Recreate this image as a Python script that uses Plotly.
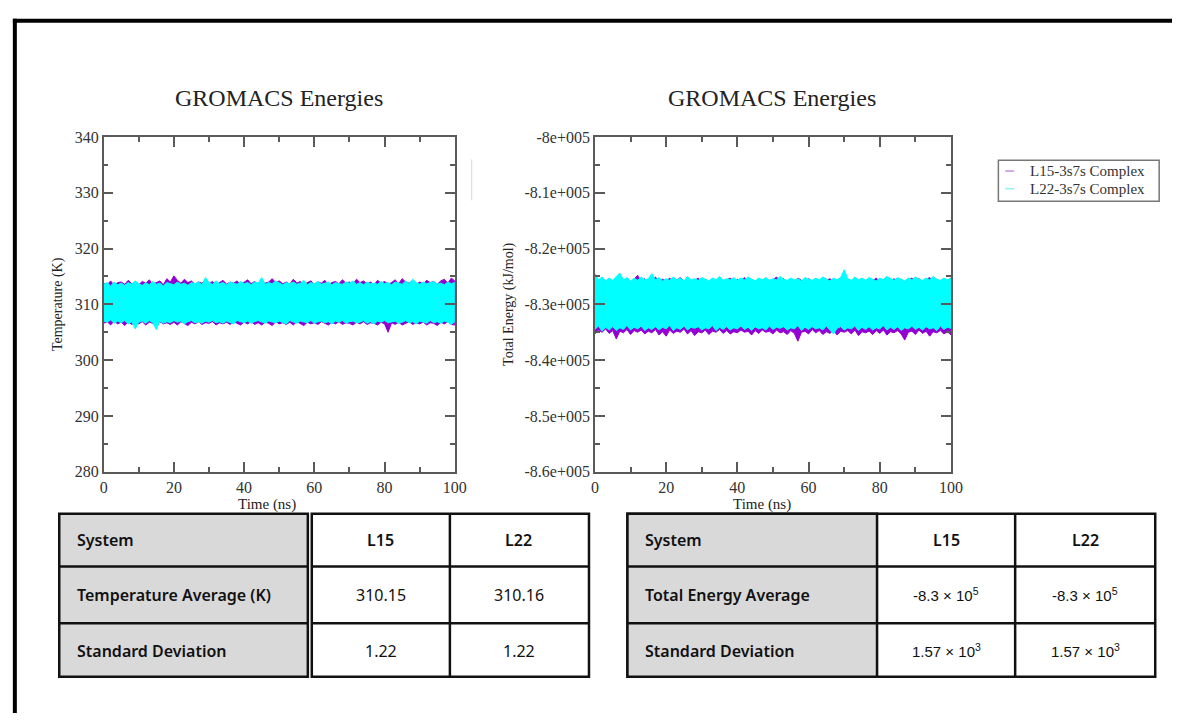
import plotly.graph_objects as go

# ---------------- data ----------------
time_ns = list(range(0, 101))

temp_L15_upper = [313.8, 313.5, 314.2, 313.4, 313.9, 314.0, 313.6, 314.3, 313.7, 313.9,
                  313.5, 314.1, 313.8, 314.4, 313.6, 313.9, 314.2, 313.5, 314.6, 314.0,
                  315.1, 314.3, 313.8, 314.5, 313.9, 314.2, 313.6, 314.0, 313.8, 314.4,
                  313.7, 314.1, 313.5, 313.9, 314.3, 313.6, 314.0, 313.8, 314.2, 313.5,
                  313.9, 314.4, 313.7, 314.1, 313.6, 314.3, 313.8, 314.0, 314.6, 313.9,
                  314.2, 313.7, 314.0, 313.6, 314.5, 313.8, 314.1, 313.5, 313.9, 314.2,
                  313.6, 314.0, 313.8, 314.3, 313.5, 313.9, 314.1, 313.7, 314.4, 313.8,
                  314.0, 313.6, 314.5, 313.9, 314.2, 313.7, 314.0, 313.5, 314.3, 313.8,
                  314.1, 313.6, 313.9, 314.4, 313.7, 314.6, 314.0, 313.8, 314.2, 313.6,
                  314.0, 313.7, 314.3, 313.9, 314.1, 313.6, 314.2, 314.5, 313.8, 314.7,
                  314.2]
temp_L15_lower = [306.6, 306.9, 306.3, 307.0, 306.5, 306.8, 306.2, 306.9, 306.4, 306.7,
                  306.5, 306.9, 306.3, 306.8, 306.6, 306.2, 306.9, 306.5, 306.7, 306.4,
                  306.8, 306.3, 306.9, 306.6, 306.2, 306.8, 306.5, 306.9, 306.4, 306.7,
                  306.6, 306.9, 306.3, 306.7, 306.5, 306.8, 306.4, 306.9, 306.6, 306.3,
                  306.8, 306.5, 306.9, 306.4, 306.7, 306.3, 306.8, 306.6, 306.2, 306.9,
                  306.5, 306.7, 306.4, 306.8, 306.3, 306.9, 306.6, 306.2, 306.8, 306.5,
                  306.7, 306.4, 306.9, 306.6, 306.3, 306.8, 306.5, 306.9, 306.4, 306.7,
                  306.6, 306.3, 306.8, 306.5, 306.9, 306.4, 306.7, 306.6, 306.3, 306.8,
                  306.5, 305.0, 306.7, 306.4, 306.8, 306.3, 306.6, 306.9, 306.4, 306.7,
                  306.5, 306.8, 306.3, 306.7, 306.6, 306.2, 306.8, 306.5, 306.9, 306.4,
                  306.3]
temp_L22_upper = [313.6, 313.9, 313.3, 314.0, 313.5, 313.8, 313.4, 313.9, 313.6, 314.2,
                  313.7, 313.4, 313.9, 313.5, 314.1, 313.6, 313.8, 313.3, 313.9, 313.7,
                  313.5, 314.0, 313.6, 313.8, 313.4, 313.9, 313.7, 314.0, 313.5, 314.8,
                  313.9, 313.6, 314.2, 313.7, 313.9, 313.5, 314.0, 313.8, 313.6, 314.1,
                  313.7, 313.9, 313.5, 314.0, 313.8, 314.8, 313.6, 313.9, 313.7, 314.2,
                  313.8, 313.5, 313.9, 313.7, 314.0, 313.6, 313.8, 314.3, 313.5, 313.9,
                  313.7, 314.1, 313.6, 313.8, 314.0, 313.5, 313.9, 313.7, 313.6, 314.0,
                  313.8, 314.2, 313.6, 313.9, 313.5, 314.0, 313.7, 313.8, 313.6, 314.1,
                  313.7, 313.9, 313.5, 314.0, 313.8, 313.6, 314.2, 313.7, 314.5, 313.9,
                  313.6, 314.0, 313.7, 313.9, 314.1, 313.6, 313.8, 313.5, 314.0, 313.7,
                  313.9]
temp_L22_lower = [307.0, 306.8, 307.2, 306.6, 307.0, 306.7, 307.1, 306.5, 306.9, 305.6,
                  306.8, 307.0, 306.6, 307.1, 306.7, 305.5, 307.0, 306.6, 306.9, 306.7,
                  307.1, 306.8, 307.0, 306.5, 306.9, 307.1, 306.7, 306.9, 306.6, 307.0,
                  306.8, 307.1, 306.7, 306.9, 306.6, 307.0, 306.8, 306.5, 307.1, 306.9,
                  306.7, 307.0, 306.6, 306.9, 307.1, 306.8, 306.6, 307.0, 306.9, 306.7,
                  307.0, 306.8, 306.5, 307.1, 306.9, 306.6, 307.0, 306.8, 306.7, 307.1,
                  306.6, 306.9, 307.0, 306.7, 306.9, 306.5, 307.0, 306.8, 307.1, 306.6,
                  306.9, 307.0, 306.7, 306.8, 307.1, 306.6, 306.9, 306.5, 307.0, 306.8,
                  307.1, 306.7, 306.9, 307.0, 306.6, 306.8, 307.1, 306.7, 306.9, 306.5,
                  307.0, 306.8, 306.6, 307.1, 306.7, 306.9, 306.6, 307.0, 306.8, 306.4,
                  306.9]

energy_L15_upper = [-825600, -826000, -825200, -825900, -825400, -826100, -825700, -824900, -825800, -825300,
                    -826000, -825500, -824800, -825900, -825400, -826200, -825600, -825100, -825900, -825500,
                    -825800, -825300, -826000, -825600, -825200, -825900, -825400, -826100, -825700, -825300,
                    -825900, -825500, -826000, -825400, -825800, -825200, -825900, -825600, -825300, -826000,
                    -825500, -825800, -825200, -825900, -825600, -826100, -825400, -825800, -825300, -825900,
                    -825600, -825100, -825800, -825400, -826000, -825500, -825900, -825300, -825700, -826100,
                    -825400, -825800, -825500, -825900, -825200, -825700, -825400, -826000, -825600, -825300,
                    -825800, -825500, -825900, -825200, -825700, -825400, -826000, -825500, -825800, -825300,
                    -825900, -825600, -825100, -825800, -825400, -825900, -825500, -826100, -825700, -825300,
                    -825800, -825400, -825900, -825600, -825200, -825800, -825500, -826000, -825400, -825700,
                    -825300]
energy_L15_lower = [-835300, -834600, -835000, -834400, -835200, -834700, -836200, -834800, -835100, -834500,
                    -835400, -834700, -835000, -834600, -835300, -834800, -835100, -834500, -835500, -834900,
                    -835700, -834600, -835200, -834800, -835000, -834400, -835300, -834700, -835600, -834900,
                    -835100, -834600, -835400, -834800, -835000, -834500, -835200, -834700, -835300, -834900,
                    -835100, -834600, -835000, -834800, -835500, -834700, -835200, -834600, -835000, -834800,
                    -835300, -834600, -835100, -834900, -835400, -834700, -835200, -836600, -835000, -834800,
                    -835300, -834500, -835100, -834700, -835400, -834900, -835200, -834600, -835500, -834800,
                    -835000, -834700, -835300, -834600, -835600, -834900, -835100, -834800, -835400, -834700,
                    -835200, -834600, -835500, -834900, -835100, -834700, -835300, -836400, -835000, -834800,
                    -835400, -834600, -835200, -834800, -835700, -834900, -835100, -834700, -835300, -834900,
                    -835500]
energy_L22_upper = [-824500, -825600, -825100, -825800, -825300, -825700, -825000, -824400, -825600, -825200,
                    -825800, -825300, -825700, -825100, -825600, -825400, -824500, -825600, -825200, -825800,
                    -825400, -825700, -825100, -825600, -825300, -825800, -825000, -825600, -825400, -825700,
                    -825200, -825500, -825800, -825300, -825600, -825000, -825700, -825400, -825600, -825200,
                    -825700, -825300, -825600, -825100, -825500, -825800, -825300, -825600, -825200, -825700,
                    -825400, -825600, -825000, -825500, -825700, -825300, -825600, -825400, -825800, -825200,
                    -825500, -825700, -825300, -825600, -825100, -825500, -825800, -825300, -825600, -825200,
                    -823800, -825400, -825700, -825100, -825600, -825300, -825700, -825200, -825500, -825800,
                    -825300, -825600, -825000, -825400, -825700, -825200, -825500, -825800, -825300, -825600,
                    -825100, -825500, -825700, -825300, -825600, -825000, -825500, -825700, -825300, -825600,
                    -825400]
energy_L22_lower = [-834500, -833900, -834800, -834100, -834600, -834000, -834700, -834200, -834500, -833800,
                    -834600, -834100, -834400, -833900, -834700, -834200, -834500, -834000, -834600, -834100,
                    -834400, -833800, -834700, -834200, -834500, -833900, -834600, -834100, -834300, -834000,
                    -834600, -834200, -834400, -833800, -834700, -834100, -834500, -834000, -834600, -834200,
                    -834400, -833900, -834500, -834100, -834700, -834000, -834400, -834200, -834600, -833900,
                    -834500, -834100, -834300, -834000, -834600, -834200, -834400, -833800, -834700, -834100,
                    -834500, -834000, -834400, -834200, -834600, -833900, -834500, -835300, -834300, -834000,
                    -834600, -834200, -834400, -833900, -834700, -834100, -834500, -834000, -834600, -834200,
                    -834400, -833800, -834600, -834100, -834500, -834000, -834700, -834200, -834400, -833900,
                    -834500, -834100, -834600, -834000, -834400, -834200, -834700, -833900, -834500, -834100,
                    -834300]

series_names = ["L15-3s7s Complex", "L22-3s7s Complex"]
series_colors = ["#9400d3", "#00ffff"]
legend_colors = ["#c98ae6", "#8af2f2"]

temp_ticks = [280, 290, 300, 310, 320, 330, 340]
energy_ticks = [-860000, -850000, -840000, -830000, -820000, -810000, -800000]
energy_ticktext = ["-8.6e+005", "-8.5e+005", "-8.4e+005", "-8.3e+005", "-8.2e+005", "-8.1e+005", "-8e+005"]
time_ticks = [0, 20, 40, 60, 80, 100]

table1_header = ["System", "L15", "L22"]
table1_rows = [["Temperature Average (K)", "310.15", "310.16"],
               ["Standard Deviation", "1.22", "1.22"]]
table2_header = ["System", "L15", "L22"]
table2_rows = [["Total Energy Average", "-8.3 × 10<sup>5</sup>", "-8.3 × 10<sup>5</sup>"],
               ["Standard Deviation", "1.57 × 10<sup>3</sup>", "1.57 × 10<sup>3</sup>"]]

# ---------------- helpers ----------------
W, H = 1184, 722
def px(x):
    return x / W
def py(y):
    return 1 - y / H

SERIF = "Liberation Serif"
SANS = "Noto Sans"

fig = go.Figure()

def band(xname, yname, upper, lower, name, color):
    xs = time_ns + time_ns[::-1]
    ys = upper + lower[::-1]
    fig.add_trace(go.Scatter(x=xs, y=ys, mode="lines", fill="toself", fillcolor=color,
                             line=dict(color=color, width=1), name=name, showlegend=False,
                             xaxis=xname, yaxis=yname, hoverinfo="skip"))

band("x", "y", temp_L15_upper, temp_L15_lower, series_names[0], series_colors[0])
band("x", "y", temp_L22_upper, temp_L22_lower, series_names[1], series_colors[1])
band("x2", "y2", energy_L15_upper, energy_L15_lower, series_names[0], series_colors[0])
band("x2", "y2", energy_L22_upper, energy_L22_lower, series_names[1], series_colors[1])

axis_common = dict(showline=True, linecolor="#5a5a5a", linewidth=1.5, mirror="ticks",
                   ticks="inside", ticklen=10, tickwidth=1.5, tickcolor="#5a5a5a",
                   showgrid=False, zeroline=False,
                   tickfont=dict(family=SERIF, size=16, color="#333333"))

minor_x = dict(dtick=10, ticklen=5, ticks="inside", tickcolor="#5a5a5a", tickwidth=1.5)

fig.update_layout(
    width=W, height=H, margin=dict(l=0, r=0, t=0, b=0),
    paper_bgcolor="white", plot_bgcolor="white", showlegend=False,
    xaxis=dict(domain=[px(101), px(457)], range=[0, 100], tickvals=time_ticks,
               minor=minor_x, anchor="y", **axis_common),
    yaxis=dict(domain=[py(475), py(132)], range=[280, 340], tickvals=temp_ticks,
               minor=dict(dtick=5, ticklen=5, ticks="inside", tickcolor="#5a5a5a", tickwidth=1.5),
               anchor="x", **axis_common),
    xaxis2=dict(domain=[px(599), px(960)], range=[0, 100], tickvals=time_ticks,
                minor=minor_x, anchor="y2", **axis_common),
    yaxis2=dict(domain=[py(475), py(132)], range=[-860000, -800000], tickvals=energy_ticks,
                ticktext=energy_ticktext,
                minor=dict(dtick=5000, ticklen=5, ticks="inside", tickcolor="#5a5a5a", tickwidth=1.5),
                anchor="x2", **axis_common),
)

annotations = []
shapes = []

def text(x, y, s, size, family=SERIF, color="#222222", xanchor="center", angle=0, weight="normal"):
    annotations.append(dict(x=px(x), y=py(y), xref="paper", yref="paper", text=s,
                            showarrow=False, xanchor=xanchor, yanchor="middle", textangle=angle,
                            font=dict(family=family, size=size, color=color, weight=weight)))

# titles and axis titles
text(279, 92, "GROMACS Energies", 24)
text(779, 92, "GROMACS Energies", 24)
text(55, 303, "Temperature (K)", 14, angle=-90)
text(512, 303, "Total Energy (kJ/mol)", 14, angle=-90)
text(267, 508, "Time (ns)", 15)
text(768, 508, "Time (ns)", 15)

# legend (manual, Grace style)
shapes.append(dict(type="rect", xref="paper", yref="paper", x0=px(1008), x1=px(1171), y0=py(198), y1=py(156),
                   line=dict(color="#777777", width=1.5), fillcolor="white"))
for i, (nm, c) in enumerate(zip(series_names, legend_colors)):
    yy = 167 + i * 18
    shapes.append(dict(type="line", xref="paper", yref="paper", x0=px(1015), x1=px(1024), y0=py(yy), y1=py(yy),
                       line=dict(color=c, width=1.5)))
    text(1038, yy, nm, 15, xanchor="left", color="#333333")

# faint artifact line
shapes.append(dict(type="line", xref="paper", yref="paper", x0=px(474), x1=px(474), y0=py(155), y1=py(197),
                   line=dict(color="#e2e2e2", width=1.5)))

# outer frame (left and top)
shapes.append(dict(type="line", xref="paper", yref="paper", x0=px(11), x1=px(11), y0=py(11), y1=py(722),
                   line=dict(color="black", width=4)))
shapes.append(dict(type="line", xref="paper", yref="paper", x0=px(9), x1=px(1184), y0=py(13), y1=py(13),
                   line=dict(color="black", width=4)))

# tables
def rect(x0, y0, x1, y1, fill, lw=2.5):
    shapes.append(dict(type="rect", xref="paper", yref="paper", x0=px(x0), x1=px(x1), y0=py(y1), y1=py(y0),
                       line=dict(color="#111111", width=lw), fillcolor=fill))
def hline(x0, x1, y, lw=2.5):
    shapes.append(dict(type="line", xref="paper", yref="paper", x0=px(x0), x1=px(x1), y0=py(y), y1=py(y),
                       line=dict(color="#111111", width=lw)))
def vline(x, y0, y1, lw=2.5):
    shapes.append(dict(type="line", xref="paper", yref="paper", x0=px(x), x1=px(x), y0=py(y0), y1=py(y1),
                       line=dict(color="#111111", width=lw)))

top, r1, r2, bot = 518, 572, 630, 685
row_c = [545, 601, 658]

# left table
rect(56, top, 308, bot, "#d9d9d9")
rect(312, top, 593, bot, "white")
hline(56, 308, r1); hline(56, 308, r2)
hline(312, 593, r1); hline(312, 593, r2)
vline(452, top, bot)
cols1 = [72, 382, 522]
rows1 = [table1_header] + table1_rows
for ri, row in enumerate(rows1):
    for ci, cell in enumerate(row):
        strong = (ri == 0) or (ci == 0)
        text(cols1[ci], row_c[ri], cell, 16, family=SANS, color="#111111",
             xanchor="left" if ci == 0 else "center", weight=600 if strong else "normal")

# right table
rect(632, top, 1167, bot, "white")
rect(632, top, 885, bot, "#d9d9d9")
hline(632, 1167, r1); hline(632, 1167, r2)
vline(1025, top, bot)
cols2 = [648, 955, 1096]
rows2 = [table2_header] + table2_rows
for ri, row in enumerate(rows2):
    for ci, cell in enumerate(row):
        strong = (ri == 0) or (ci == 0)
        fam = SANS if strong else "Liberation Sans"
        text(cols2[ci], row_c[ri], cell, 16 if strong else 15, family=fam, color="#111111",
             xanchor="left" if ci == 0 else "center", weight=600 if strong else "normal")

fig.update_layout(annotations=annotations, shapes=shapes)
fig.write_html("out.html", post_script="document.body.style.margin='0';")
